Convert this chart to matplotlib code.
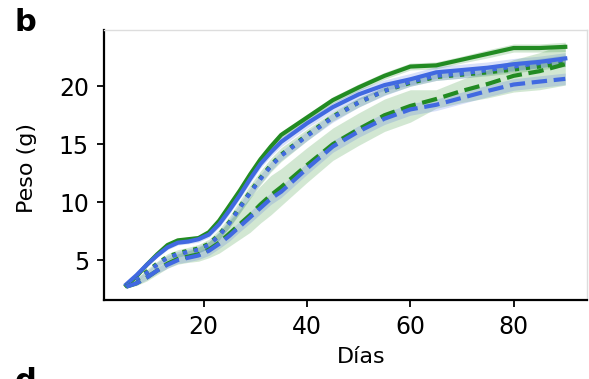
import matplotlib
matplotlib.use("Agg")
import matplotlib.pyplot as plt
import numpy as np

# sampling days
dias = [5, 7, 9, 11, 13, 15, 17, 19, 21, 23, 25, 27, 29, 31, 33, 35,
        40, 45, 50, 55, 60, 65, 70, 75, 80, 85, 90]

# mean weight (g) per group
verde_solido = [2.8, 3.6, 4.6, 5.5, 6.3, 6.7, 6.8, 6.9, 7.4, 8.4, 9.7, 11.0, 12.4, 13.7, 14.8, 15.8,
                17.3, 18.8, 19.9, 20.9, 21.7, 21.8, 22.3, 22.8, 23.3, 23.3, 23.4]
azul_solido = [2.9, 3.7, 4.6, 5.4, 6.1, 6.5, 6.6, 6.8, 7.2, 8.1, 9.3, 10.6, 12.0, 13.3, 14.3, 15.2,
               16.8, 18.2, 19.3, 20.1, 20.6, 21.2, 21.4, 21.6, 21.9, 22.1, 22.4]
verde_punteado = [2.8, 3.3, 4.0, 4.7, 5.3, 5.6, 5.8, 6.0, 6.4, 7.2, 8.3, 9.6, 10.9, 12.1, 13.2, 14.1,
                  15.8, 17.4, 18.6, 19.6, 20.3, 20.8, 21.0, 21.2, 21.45, 21.7, 22.0]
azul_punteado = [2.8, 3.3, 3.9, 4.6, 5.2, 5.5, 5.7, 5.9, 6.3, 7.1, 8.2, 9.5, 10.8, 12.0, 13.1, 14.0,
                 15.7, 17.3, 18.6, 19.6, 20.4, 20.9, 21.1, 21.4, 21.7, 22.0, 22.3]
verde_guion = [2.7, 3.0, 3.5, 4.1, 4.7, 5.1, 5.3, 5.5, 5.9, 6.5, 7.3, 8.1, 8.9, 9.8, 10.6, 11.3,
               13.2, 15.0, 16.3, 17.5, 18.3, 18.9, 19.6, 20.2, 20.9, 21.3, 21.9]
azul_guion = [2.7, 3.0, 3.5, 4.1, 4.6, 5.0, 5.2, 5.4, 5.8, 6.4, 7.1, 7.9, 8.7, 9.5, 10.3, 10.9,
              12.9, 14.8, 16.1, 17.2, 18.0, 18.4, 19.0, 19.6, 20.15, 20.4, 20.64]

# spread around each mean
sd_verde_solido = [0.1, 0.1, 0.1, 0.15, 0.15, 0.15, 0.2, 0.2, 0.2, 0.2, 0.2, 0.25, 0.25, 0.25, 0.3, 0.3,
                   0.3, 0.3, 0.3, 0.3, 0.3, 0.3, 0.3, 0.35, 0.35, 0.35, 0.4]
sd_azul_solido = [0.1, 0.1, 0.15, 0.15, 0.2, 0.2, 0.2, 0.25, 0.25, 0.3, 0.3, 0.3, 0.35, 0.35, 0.35, 0.4,
                  0.4, 0.4, 0.45, 0.45, 0.5, 0.5, 0.5, 0.5, 0.5, 0.5, 0.5]
sd_verde_punteado = [0.1, 0.15, 0.2, 0.2, 0.25, 0.3, 0.3, 0.35, 0.4, 0.45, 0.5, 0.55, 0.6, 0.6, 0.6, 0.6,
                     0.5, 0.4, 0.4, 0.35, 0.3, 0.3, 0.3, 0.3, 0.3, 0.3, 0.3]
sd_azul_punteado = [0.1, 0.15, 0.15, 0.2, 0.2, 0.25, 0.25, 0.3, 0.3, 0.35, 0.35, 0.4, 0.4, 0.4, 0.4, 0.4,
                    0.4, 0.4, 0.4, 0.4, 0.4, 0.4, 0.4, 0.4, 0.4, 0.4, 0.4]
sd_verde_guion = [0.1, 0.2, 0.3, 0.35, 0.4, 0.45, 0.5, 0.6, 0.7, 0.9, 1.1, 1.3, 1.5, 1.6, 1.7, 1.6,
                  1.5, 1.4, 1.4, 1.4, 1.4, 0.8, 1.0, 1.2, 1.4, 1.6, 1.8]
sd_azul_guion = [0.1, 0.15, 0.2, 0.25, 0.3, 0.3, 0.35, 0.35, 0.4, 0.4, 0.45, 0.45, 0.5, 0.5, 0.5, 0.5,
                 0.5, 0.5, 0.5, 0.5, 0.5, 0.5, 0.5, 0.5, 0.5, 0.5, 0.5]

verde = "#228B22"
azul = "#4169E1"

series = [
    (verde_solido, sd_verde_solido, verde, "-"),
    (azul_solido, sd_azul_solido, azul, "-"),
    (verde_punteado, sd_verde_punteado, verde, ":"),
    (azul_punteado, sd_azul_punteado, azul, ":"),
    (verde_guion, sd_verde_guion, verde, "--"),
    (azul_guion, sd_azul_guion, azul, "--"),
]

fig = plt.figure(figsize=(5.89, 3.79), dpi=100)
ax = fig.add_axes([0.177, 0.208, 0.82, 0.713])

x = np.array(dias)
for media, sd, color, estilo in series:
    m = np.array(media)
    s = np.array(sd)
    ax.fill_between(x, m - s, m + s, color=color, alpha=0.2, linewidth=0)
for media, sd, color, estilo in series:
    ax.plot(x, media, color=color, linestyle=estilo, linewidth=3.0)

ax.set_xticks([20, 40, 60, 80])
ax.set_yticks([5, 10, 15, 20])
ax.tick_params(labelsize=17, length=5, width=1.3, pad=6)
ax.set_xlabel("Días", fontsize=16)
ax.xaxis.set_label_coords(0.531, -0.175)
ax.set_ylabel("Peso (g)", fontsize=16)
ax.yaxis.set_label_coords(-0.139, 0.49)

for lado in ["top", "right"]:
    ax.spines[lado].set_color("#dddddd")
    ax.spines[lado].set_linewidth(1.0)
for lado in ["left", "bottom"]:
    ax.spines[lado].set_linewidth(1.6)

fig.text(0.025, 0.918, "b", fontsize=22, fontweight="bold", va="baseline")
fig.text(0.025, -0.03, "d", fontsize=22, fontweight="bold", va="baseline")

fig.savefig("out.png", dpi=100)
